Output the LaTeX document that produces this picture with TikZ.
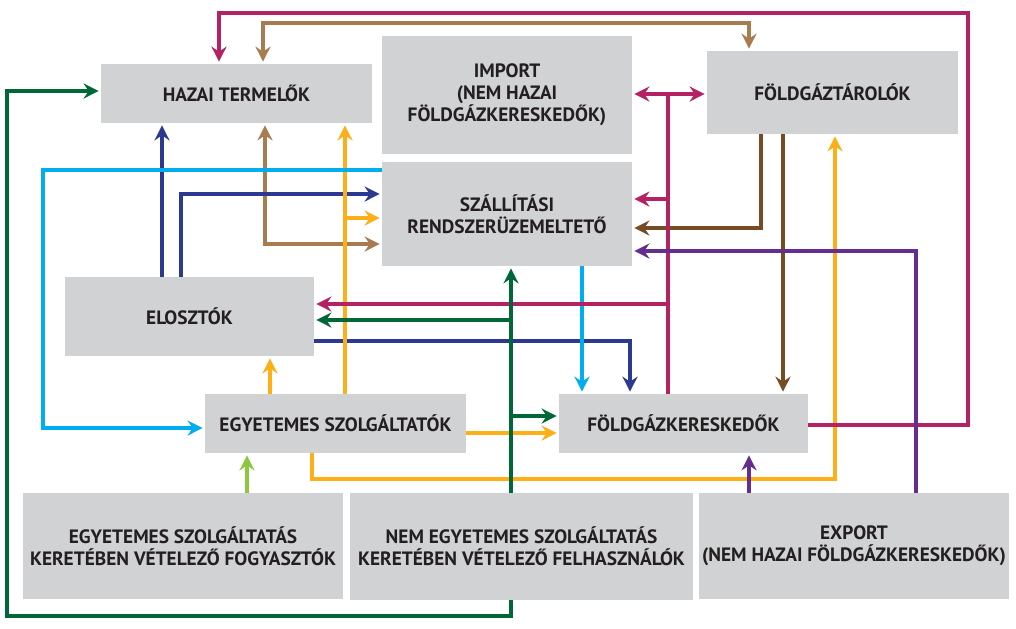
\documentclass[tikz,border=0pt]{standalone}
\usepackage{fontspec}
\setmainfont{PT Sans}
\usetikzlibrary{arrows.meta}
\definecolor{boxgray}{HTML}{D1D2D4}
\definecolor{textdark}{HTML}{231F20}
\definecolor{mymagenta}{HTML}{B52263}
\definecolor{mytan}{HTML}{A97C50}
\definecolor{mybrown}{HTML}{754C24}
\definecolor{mynavy}{HTML}{2B3990}
\definecolor{myorange}{HTML}{FCAF17}
\definecolor{mycyan}{HTML}{00AEEF}
\definecolor{mygreen}{HTML}{006838}
\definecolor{mylightgreen}{HTML}{8DC63F}
\definecolor{mypurple}{HTML}{662D91}
\tikzset{
	boxnode/.style={
			rectangle,
			fill=boxgray,
			inner sep=0pt,
			align=center,
			text=textdark,
			font=\bfseries\fontsize{11}{12.5}\selectfont
		},
	flow/.style={
			line width=0.75mm,
			shorten >=0.4mm,
			-{Stealth[length=3mm,width=3mm,inset=1mm]}
		},
	twoflow/.style={
			flow,
			shorten <=0.4mm,
			{Stealth[length=3mm,width=3mm,inset=1mm]}-{Stealth[length=3mm,width=3mm,inset=1mm]}
		},
	magflow/.style={flow, draw=mymagenta},
	tanflow/.style={twoflow, draw=mytan},
	brownflow/.style={flow, draw=mybrown},
	navyflow/.style={flow, draw=mynavy},
	orflow/.style={flow, draw=myorange},
	cyflow/.style={flow, draw=mycyan},
	grflow/.style={flow, draw=mygreen},
	lgrflow/.style={flow, draw=mylightgreen},
	purflow/.style={flow, draw=mypurple}
}

\begin{document}
\begin{tikzpicture}[x=0.2mm,y=-0.2mm]
\useasboundingbox (0,0) rectangle (1016,628);

\node[boxnode, minimum width=54.2mm, minimum height=11.8mm] (nHazai) at (236.5,93.5) {HAZAI TERMELŐK};
\node[boxnode, minimum width=50mm, minimum height=23.6mm] (nImport) at (507,95) {IMPORT\\(NEM HAZAI\\FÖLDGÁZKERESKEDŐK)};
\node[boxnode, minimum width=50.2mm, minimum height=16.6mm] (nTarolo) at (832.5,92.5) {FÖLDGÁZTÁROLÓK};
\node[boxnode, minimum width=50mm, minimum height=20.8mm] (nSzall) at (507,214) {SZÁLLÍTÁSI\\RENDSZERÜZEMELTETŐ};
\node[boxnode, minimum width=49.8mm, minimum height=15.8mm] (nEloszt) at (189.5,316.5) {ELOSZTÓK};
\node[boxnode, minimum width=52.2mm, minimum height=11.8mm] (nEgySz) at (335.5,423.5) {EGYETEMES SZOLGÁLTATÓK};
\node[boxnode, minimum width=49.8mm, minimum height=11.8mm] (nKer) at (683.5,423.5) {FÖLDGÁZKERESKEDŐK};
\node[boxnode, minimum width=64mm, minimum height=21.2mm] (nFogy) at (183,546) {EGYETEMES SZOLGÁLTATÁS\\KERETÉBEN VÉTELEZŐ FOGYASZTÓK};
\node[boxnode, minimum width=68.6mm, minimum height=21.4mm] (nFelh) at (521.5,546.5) {NEM EGYETEMES SZOLGÁLTATÁS\\KERETÉBEN VÉTELEZŐ FELHASZNÁLÓK};
\node[boxnode, minimum width=62mm, minimum height=21.2mm] (nExport) at (854,546) {EXPORT\\(NEM HAZAI FÖLDGÁZKERESKEDŐK)};

\draw[tanflow] (nHazai.north -| 263,0) -- (263,23) -| (nTarolo.north -| 749,0);
\draw[tanflow] (nHazai.south -| 265,0) |- (nSzall.west |- 0,244);
\draw[navyflow] (nEloszt.north -| 162,0) -- (nHazai.south -| 162,0);
\draw[navyflow] (nEloszt.north -| 181,0) |- (nSzall.west |- 0,194);
\draw[navyflow] (nEloszt.east |- 0,341) -| (nKer.north -| 630,0);
\draw[orflow] (nEgySz.north -| 345,0) -- (nHazai.south -| 345,0);
\draw[orflow] (nEgySz.north -| 345,0) |- (nSzall.west |- 0,218);
\draw[orflow] (nEgySz.north -| 270,0) -- (nEloszt.south -| 270,0);
\draw[orflow] (nEgySz.east |- 0,433) -- (nKer.west |- 0,433);
\draw[orflow] (nEgySz.south -| 312,0) |- (835,479) -- (nTarolo.south -| 835,0);
\draw[cyflow] (nSzall.west |- 0,170) -| (43,428) -- (nEgySz.west |- 0,428);
\draw[cyflow] (nSzall.south -| 582,0) -- (nKer.north -| 582,0);
\draw[brownflow] (nTarolo.south -| 761,0) |- (nSzall.east |- 0,228);
\draw[brownflow] (nTarolo.south -| 783,0) -- (nKer.north -| 783,0);
\draw[magflow] (nKer.north -| 668,0) |- (nImport.east |- 0,94);
\draw[magflow] (nKer.north -| 668,0) |- (nTarolo.west |- 0,94);
\draw[magflow] (nKer.north -| 668,0) |- (nSzall.east |- 0,199);
\draw[magflow] (nKer.north -| 668,0) |- (nEloszt.east |- 0,304);
\draw[magflow] (nKer.east |- 0,425) -| (968,13) -| (nHazai.north -| 219,0);
\draw[purflow] (nExport.north -| 916,0) |- (nSzall.east |- 0,251);
\draw[purflow] (nExport.north -| 749,0) -- (nKer.south -| 749,0);
\draw[grflow] (nFelh.north -| 511,0) -- (nSzall.south -| 511,0);
\draw[grflow] (nFelh.north -| 511,0) |- (nEloszt.east |- 0,320);
\draw[grflow] (nFelh.north -| 511,0) |- (nKer.west |- 0,416);
\draw[grflow] (nFelh.south -| 511,0) -- (511,616) -| (7,91) -- (nHazai.west |- 0,91);
\draw[lgrflow] (nFogy.north -| 247,0) -- (nEgySz.south -| 247,0);

\end{tikzpicture}
\end{document}
